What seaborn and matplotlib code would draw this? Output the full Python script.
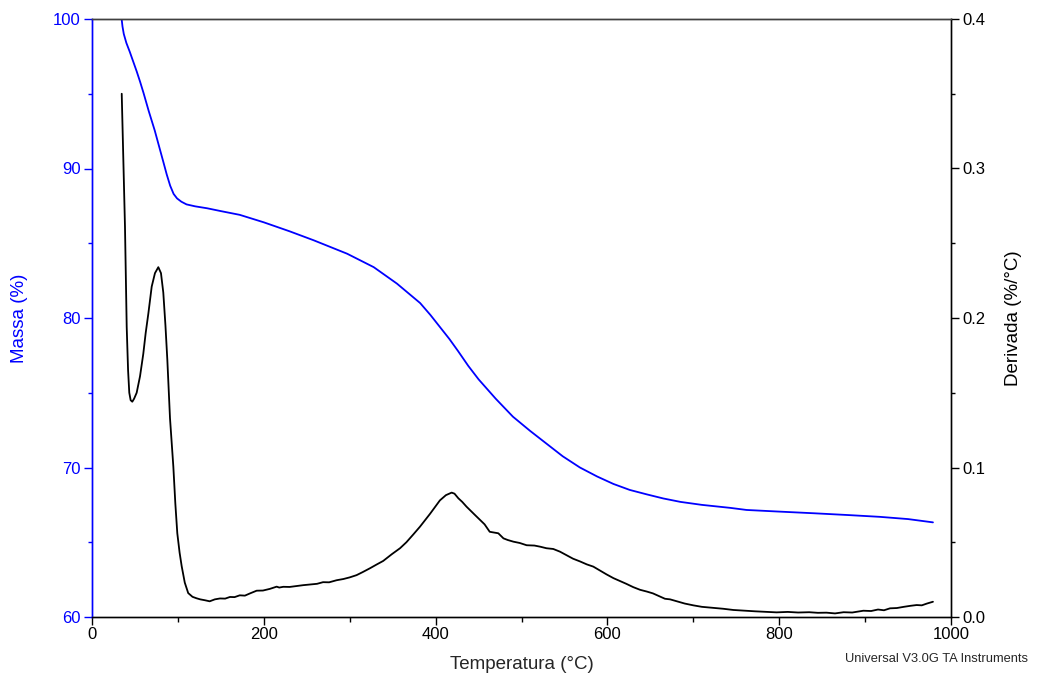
import numpy as np
import pandas as pd
import matplotlib
matplotlib.use("Agg")
import matplotlib.pyplot as plt
import seaborn as sns
from matplotlib.ticker import MultipleLocator

# Mass curve (TGA)
mass_temp = [33.5, 34.5, 35.5, 37.0, 38.5, 40.0, 44.0, 48.0, 52.0, 56.0, 60.0, 66.0, 73.0,
             78.0, 83.0, 87.0, 91.0, 95.0, 99.0, 104.0, 110.0, 120.0, 134.0, 150.0, 172.0,
             200.0, 230.0, 258.0, 297.0, 328.0, 355.0, 382.0, 394.0, 405.0, 416.0, 426.0,
             438.0, 450.0, 470.0, 490.0, 510.0, 529.0, 548.0, 568.0, 588.0, 607.0, 626.0,
             646.0, 665.0, 685.0, 710.0, 743.0, 762.0, 800.0, 840.0, 880.0, 917.0, 950.0,
             979.0]
mass_pct = [100.4, 100.0, 99.5, 99.0, 98.7, 98.4, 97.8, 97.15, 96.5, 95.8, 95.05, 93.85,
            92.55, 91.5, 90.45, 89.6, 88.85, 88.3, 88.0, 87.78, 87.6, 87.47, 87.34, 87.15,
            86.9, 86.4, 85.8, 85.2, 84.3, 83.4, 82.3, 81.0, 80.2, 79.4, 78.6, 77.8, 76.8,
            75.9, 74.6, 73.4, 72.45, 71.6, 70.75, 70.0, 69.4, 68.9, 68.5, 68.2, 67.93, 67.7,
            67.5, 67.3, 67.16, 67.05, 66.94, 66.82, 66.7, 66.55, 66.33]

# Derivative curve (DTG)
deriv_temp = [34.6, 36.5, 38.4, 40.4, 42.0, 43.4, 45.0, 46.9, 49.0, 52.0, 55.9, 59.7, 62.5,
              65.6, 69.5, 73.3, 77.2, 80.3, 83.0, 85.5, 87.7, 90.8, 94.7, 97.0, 99.3, 102.0,
              104.4, 108.0, 112.0, 117.0, 121.8, 126.0, 131.5, 137.0, 143.0, 149.0, 155.0,
              160.6, 166.0, 172.0, 178.0, 184.0, 191.7, 199.0, 207.0, 215.0, 218.0, 222.7,
              230.0, 238.0, 246.0, 255.0, 262.0, 269.0, 276.0, 284.8, 292.6, 300.0, 308.0,
              315.0, 323.6, 331.0, 339.0, 349.0, 358.6, 366.0, 374.0, 381.8, 393.5, 405.0,
              412.0, 418.7, 422.0, 426.5, 431.0, 436.0, 440.0, 445.9, 451.7, 457.0, 463.0,
              468.0, 473.0, 479.0, 484.0, 490.5, 498.0, 506.0, 515.0, 522.0, 529.0, 537.0,
              544.8, 552.0, 560.0, 568.0, 576.0, 583.6, 591.0, 599.0, 607.0, 615.0, 622.0,
              630.0, 638.0, 646.0, 653.0, 660.0, 667.0, 673.0, 681.0, 690.0, 700.0, 710.0,
              722.0, 735.0, 746.6, 760.0, 772.0, 785.0, 797.0, 810.0, 822.0, 835.0, 845.0,
              855.0, 865.0, 875.0, 885.0, 898.0, 907.0, 915.0, 922.0, 929.0, 937.0, 945.0,
              953.0, 960.0, 966.0, 972.0, 979.0]
deriv_val = [0.350, 0.305, 0.261, 0.194, 0.165, 0.150, 0.145, 0.144, 0.146, 0.150, 0.161,
             0.176, 0.190, 0.203, 0.221, 0.230, 0.234, 0.230, 0.217, 0.195, 0.172, 0.133,
             0.1005, 0.076, 0.056, 0.043, 0.034, 0.023, 0.016, 0.0135, 0.0125, 0.0118,
             0.0112, 0.0105, 0.0118, 0.0124, 0.0123, 0.0134, 0.0133, 0.0145, 0.0143, 0.0158,
             0.0176, 0.0177, 0.0188, 0.0203, 0.0197, 0.0202, 0.0201, 0.0207, 0.0213, 0.0218,
             0.0222, 0.0233, 0.0232, 0.0246, 0.0254, 0.0265, 0.0280, 0.0300, 0.0326, 0.0350,
             0.0375, 0.0420, 0.0460, 0.0500, 0.0552, 0.0604, 0.0690, 0.0780, 0.0815, 0.0832,
             0.0825, 0.0794, 0.0770, 0.0738, 0.0715, 0.0682, 0.0650, 0.0620, 0.0570, 0.0565,
             0.0560, 0.0526, 0.0515, 0.0504, 0.0495, 0.0480, 0.0478, 0.0470, 0.0460, 0.0455,
             0.0437, 0.0415, 0.0390, 0.0372, 0.0352, 0.0337, 0.0312, 0.0285, 0.0260, 0.0240,
             0.0222, 0.0200, 0.0182, 0.0170, 0.0158, 0.0140, 0.0122, 0.0118, 0.0105, 0.0090,
             0.0078, 0.0068, 0.0062, 0.0055, 0.0047, 0.0042, 0.0038, 0.0034, 0.0031, 0.0034,
             0.0030, 0.0032, 0.0028, 0.0029, 0.0024, 0.0032, 0.0030, 0.0042, 0.0040, 0.0050,
             0.0045, 0.0058, 0.0060, 0.0068, 0.0075, 0.0080, 0.0078, 0.0090, 0.0102]

df_mass = pd.DataFrame({"temp": mass_temp, "mass": mass_pct})
df_deriv = pd.DataFrame({"temp": deriv_temp, "deriv": deriv_val})

sns.set_style("ticks")
plt.rcParams["font.family"] = ["Liberation Sans", "DejaVu Sans"]

blue = "#0000ff"

fig = plt.figure(figsize=(10.43, 6.73), dpi=100)
ax = fig.add_axes([92 / 1043, 1 - 617 / 673, (951 - 92) / 1043, (617 - 19) / 673])
ax2 = ax.twinx()

sns.lineplot(data=df_mass, x="temp", y="mass", color=blue, linewidth=1.3,
             sort=False, estimator=None, ax=ax)
sns.lineplot(data=df_deriv, x="temp", y="deriv", color="black", linewidth=1.3,
             sort=False, estimator=None, ax=ax2)

ax.set_xlim(0, 1000)
ax.set_ylim(60, 100)
ax2.set_ylim(0, 0.4)

ax.xaxis.set_major_locator(MultipleLocator(200))
ax.xaxis.set_minor_locator(MultipleLocator(100))
ax.yaxis.set_major_locator(MultipleLocator(10))
ax.yaxis.set_minor_locator(MultipleLocator(5))
ax2.yaxis.set_major_locator(MultipleLocator(0.1))
ax2.yaxis.set_minor_locator(MultipleLocator(0.05))
ax2.yaxis.set_major_formatter(plt.FuncFormatter(lambda v, p: f"{v:.1f}"))

ax.tick_params(axis="x", which="major", direction="out", length=6, width=1, colors="black",
               labelsize=12, pad=1)
ax.tick_params(axis="x", which="minor", direction="out", length=3.5, width=1, colors="black")
ax.tick_params(axis="y", which="major", direction="out", length=6, width=1, colors=blue,
               labelcolor=blue, labelsize=12, pad=2)
ax.tick_params(axis="y", which="minor", direction="out", length=3, width=1, colors=blue)
ax2.tick_params(axis="y", which="major", direction="out", length=6, width=1, colors="black",
                labelsize=12, pad=2)
ax2.tick_params(axis="y", which="minor", direction="out", length=3, width=1, colors="black")

for a in (ax, ax2):
    for s in a.spines.values():
        s.set_linewidth(1.0)
ax.spines["left"].set_color(blue)
ax2.spines["left"].set_color(blue)
ax2.spines["top"].set_color("#404040")
ax2.spines["right"].set_color("black")
ax2.spines["bottom"].set_color("black")

ax.set_xlabel("Temperatura (°C)", fontsize=13.5, labelpad=10)
ax.set_ylabel("Massa (%)", fontsize=13.5, color=blue, labelpad=18)
ax2.set_ylabel("Derivada (%/°C)", fontsize=13.5, color="black", labelpad=14)

fig.text(1028 / 1043, 1 - 659 / 673, "Universal V3.0G TA Instruments", fontsize=9.3,
         ha="right", va="center")

fig.savefig("out.png", dpi=100)
